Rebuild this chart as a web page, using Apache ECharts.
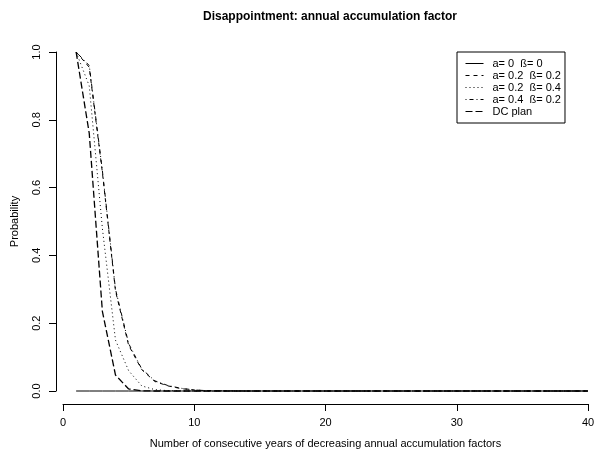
<!DOCTYPE html>
<html>
<head>
<meta charset="utf-8">
<script src="https://cdn.jsdelivr.net/npm/echarts@6/dist/echarts.min.js"></script>
<style>
  html, body { margin: 0; padding: 0; background: #fff; }
  #chart { width: 601px; height: 454px; }
</style>
</head>
<body>
<div id="chart"></div>
<script>
// Number of consecutive years (1..40)
const years = Array.from({ length: 40 }, (_, i) => i + 1);

const seriesNames = ['a= 0  ß= 0', 'a= 0.2  ß= 0.2', 'a= 0.2  ß= 0.4', 'a= 0.4  ß= 0.2', 'DC plan'];

// Probability of disappointment per run length
const pA0B0 = [0, 0, 0, 0, 0, 0, 0, 0, 0, 0, 0, 0, 0, 0, 0, 0, 0, 0, 0, 0,
               0, 0, 0, 0, 0, 0, 0, 0, 0, 0, 0, 0, 0, 0, 0, 0, 0, 0, 0, 0];
const pA02B02 = [1.0, 0.955, 0.645, 0.295, 0.135, 0.063, 0.028, 0.015, 0.007, 0.003, 0.001, 0.0005, 0.0002, 0, 0, 0, 0, 0, 0, 0,
                 0, 0, 0, 0, 0, 0, 0, 0, 0, 0, 0, 0, 0, 0, 0, 0, 0, 0, 0, 0];
const pA02B04 = [1.0, 0.90, 0.48, 0.15, 0.06, 0.015, 0.004, 0.001, 0.0003, 0, 0, 0, 0, 0, 0, 0, 0, 0, 0, 0,
                 0, 0, 0, 0, 0, 0, 0, 0, 0, 0, 0, 0, 0, 0, 0, 0, 0, 0, 0, 0];
const pA04B02 = [1.0, 0.96, 0.65, 0.30, 0.14, 0.065, 0.03, 0.016, 0.008, 0.003, 0.001, 0.0005, 0.0002, 0, 0, 0, 0, 0, 0, 0,
                 0, 0, 0, 0, 0, 0, 0, 0, 0, 0, 0, 0, 0, 0, 0, 0, 0, 0, 0, 0];
const pDC = [1.0, 0.76, 0.235, 0.047, 0.006, 0.0005, 0, 0, 0, 0, 0, 0, 0, 0, 0, 0, 0, 0, 0, 0,
             0, 0, 0, 0, 0, 0, 0, 0, 0, 0, 0, 0, 0, 0, 0, 0, 0, 0, 0, 0];

const xTicks = [0, 10, 20, 30, 40];
const yTicks = [0.0, 0.2, 0.4, 0.6, 0.8, 1.0];

const FONT = 'Liberation Sans, Arial, Helvetica, sans-serif';

function pairs(vals) {
  return years.map((x, i) => [x, vals[i]]);
}

const lineDefs = [
  { name: seriesNames[0], data: pA0B0,   type: 'solid',       width: 1 },
  { name: seriesNames[1], data: pA02B02, type: [4, 4],        width: 1 },
  { name: seriesNames[2], data: pA02B04, type: [1, 3],        width: 1 },
  { name: seriesNames[3], data: pA04B02, type: [1, 3, 4, 3],  width: 1 },
  { name: seriesNames[4], data: pDC,     type: [7, 3],        width: 1.3 }
];

const chart = echarts.init(document.getElementById('chart'), null, { renderer: 'canvas' });

chart.setOption({
  animation: false,
  backgroundColor: '#ffffff',
  title: {
    text: 'Disappointment: annual accumulation factor',
    left: 325,
    top: 6,
    textAlign: 'center',
    textStyle: { fontFamily: FONT, fontSize: 12, fontWeight: 'bold', color: '#000' }
  },
  grid: { left: 63, top: 52, width: 525, height: 340, containLabel: false },
  xAxis: {
    type: 'value',
    min: 0, max: 40, interval: 10,
    offset: 13,
    name: 'Number of consecutive years of decreasing annual accumulation factors',
    nameLocation: 'middle',
    nameGap: 34,
    nameTextStyle: { fontFamily: FONT, fontSize: 11, color: '#000' },
    axisLine: { show: true, onZero: false, lineStyle: { color: '#000', width: 1 } },
    axisTick: { show: true, length: 7, lineStyle: { color: '#000' } },
    axisLabel: {
      fontFamily: FONT, fontSize: 11, color: '#000', margin: 13,
      formatter: v => (xTicks.includes(v) ? String(v) : '')
    },
    splitLine: { show: false }
  },
  yAxis: {
    type: 'value',
    min: 0, max: 1, interval: 0.2,
    offset: 7,
    name: 'Probability',
    nameLocation: 'middle',
    nameGap: 36,
    nameTextStyle: { fontFamily: FONT, fontSize: 11, color: '#000' },
    axisLine: { show: true, onZero: false, lineStyle: { color: '#000', width: 1 } },
    axisTick: { show: true, length: 7, lineStyle: { color: '#000' } },
    axisLabel: {
      fontFamily: FONT, fontSize: 11, color: '#000', margin: 14, rotate: 90,
      formatter: v => {
        const t = yTicks.find(y => Math.abs(y - v) < 1e-9);
        return t === undefined ? '' : t.toFixed(1);
      }
    },
    splitLine: { show: false }
  },
  legend: {
    orient: 'vertical',
    left: 457,
    top: 52,
    data: seriesNames,
    padding: [6, 4, 6, 8],
    borderColor: '#000',
    borderWidth: 1,
    itemWidth: 18,
    itemHeight: 10,
    itemGap: 1,
    selectedMode: false,
    itemStyle: { opacity: 0 },
    lineStyle: { width: 1 },
    textStyle: { fontFamily: FONT, fontSize: 11, color: '#000', padding: [0, 0, 0, 4] }
  },
  series: lineDefs.map(d => ({
    name: d.name,
    type: 'line',
    data: pairs(d.data),
    symbol: 'none',
    showSymbol: false,
    smooth: false,
    clip: false,
    lineStyle: { color: '#000', width: d.width, type: d.type },
    itemStyle: { color: '#000' },
    emphasis: { disabled: true }
  }))
});
</script>
</body>
</html>
